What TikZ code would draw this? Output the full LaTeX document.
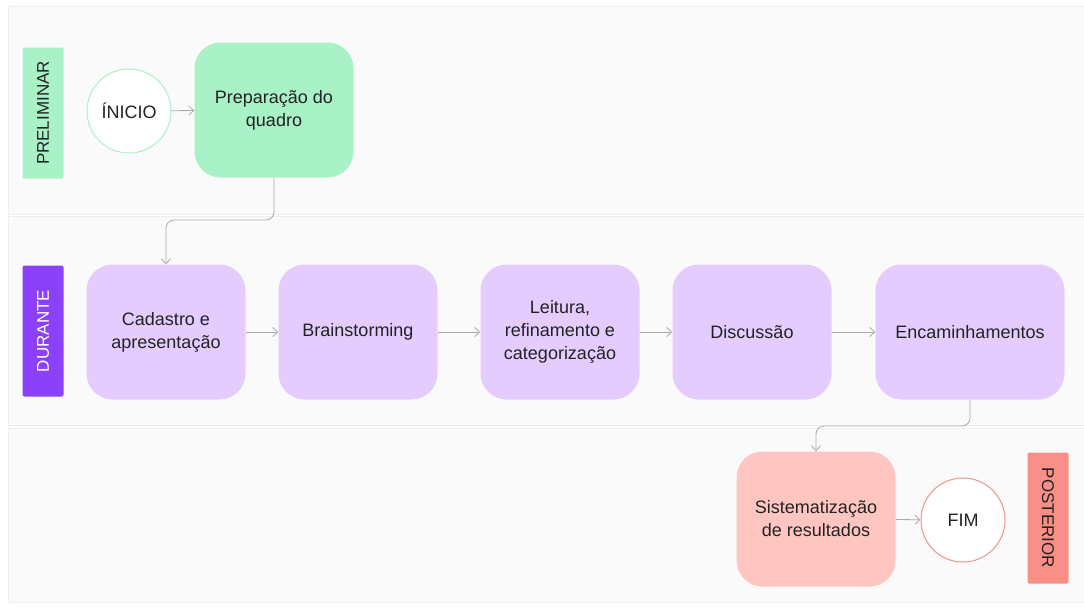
\documentclass[tikz,border=0pt]{standalone}
\usepackage{fontspec}
\setmainfont{Liberation Sans}
\usetikzlibrary{arrows.meta}

\definecolor{lanefill}{HTML}{FAFAFA}
\definecolor{laneline}{HTML}{EEEEEE}
\definecolor{verde}{HTML}{A9F1C6}
\definecolor{lilas}{HTML}{E4CDFE}
\definecolor{roxo}{HTML}{8B40F9}
\definecolor{rosa}{HTML}{FFC6C1}
\definecolor{salmao}{HTML}{F98F86}
\definecolor{contorno}{HTML}{F0938A}
\definecolor{seta}{HTML}{ABABAB}
\definecolor{texto}{HTML}{222222}

\begin{document}
\begin{tikzpicture}[x=1pt, y=-1pt, font=\fontsize{18}{23}\selectfont, text=texto,
  etapa/.style={rectangle, rounded corners=26pt, minimum width=159pt, minimum height=135pt, align=center},
  fase/.style={rectangle, rounded corners=2pt, minimum width=131pt, minimum height=41pt, font=\fontsize{17}{20}\selectfont},
  marco/.style={circle, fill=white, line width=1pt, minimum size=84pt, inner sep=0pt},
  fluxo/.style={draw=seta, line width=0.8pt, -{Straight Barb[length=5pt,width=9pt]}}]
\useasboundingbox (0,0) rectangle (1084,606);
% faixas
\draw [fill=lanefill, draw=laneline] (8,6) rectangle (1090,214);
\draw [fill=lanefill, draw=laneline] (8,216) rectangle (1090,425);
\draw [fill=lanefill, draw=laneline] (8,428) rectangle (1090,602);
% preliminar
\node [fase, fill=verde, rotate=90] (preliminar) at (43,113) {PRELIMINAR};
\node [marco, draw=verde] (inicio) at (129,111) {ÍNICIO};
\node [etapa, fill=verde] (preparo) at (274,110) {Preparação do\\quadro};
% durante
\node [fase, fill=roxo, text=white, rotate=90] (durante) at (43,331) {DURANTE};
\node [etapa, fill=lilas] (cadastro) at (166,332) {Cadastro e\\apresentação};
\node [etapa, fill=lilas] (brain) at (358,332) {Brainstorming};
\node [etapa, fill=lilas] (leitura) at (560,332) {Leitura,\\refinamento e\\categorização};
\node [etapa, fill=lilas] (discussao) at (752,332) {Discussão};
\node [etapa, fill=lilas, minimum width=189pt] (encaminha) at (970,332) {Encaminhamentos};
% posterior
\node [etapa, fill=rosa] (sistema) at (816,519) {Sistematização\\de resultados};
\node [marco, draw=contorno] (fim) at (963,520) {FIM};
\node [fase, fill=salmao, rotate=-90] (posterior) at (1048,518) {POSTERIOR};
% setas
\draw [fluxo] (inicio) -- (preparo);
\draw [fluxo, rounded corners=8pt] (preparo.south) -- (preparo.south |- 0,220) -- (cadastro.north |- 0,220) -- (cadastro.north);
\draw [fluxo] (cadastro) -- (brain);
\draw [fluxo] (brain) -- (leitura);
\draw [fluxo] (leitura) -- (discussao);
\draw [fluxo] (discussao) -- (encaminha);
\draw [fluxo, rounded corners=8pt] (encaminha.south) -- (encaminha.south |- 0,426) -- (sistema.north |- 0,426) -- (sistema.north);
\draw [fluxo] (sistema) -- (fim);
\end{tikzpicture}
\end{document}
